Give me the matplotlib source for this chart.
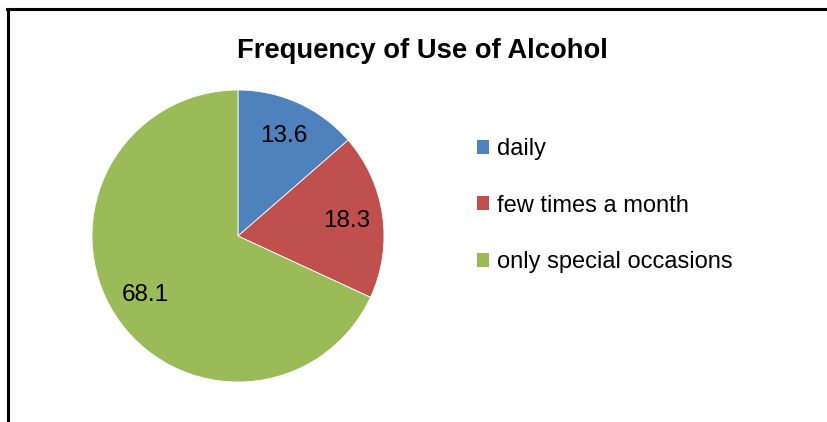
import matplotlib
matplotlib.use('Agg')
import matplotlib.pyplot as plt
from matplotlib.lines import Line2D
from matplotlib.patches import Patch

plt.rcParams['font.family'] = ['Liberation Sans', 'DejaVu Sans']

# Data
categories = ['daily', 'few times a month', 'only special occasions']
values = [13.6, 18.3, 68.1]
colors = ['#4F81BD', '#C0504D', '#9BBB59']
title = 'Frequency of Use of Alcohol'

W, H = 827, 422
fig = plt.figure(figsize=(W / 100, H / 100), dpi=100)

# pie centre (238, 236) px, radius 146 px
cx, cy, r = 238, 236, 146
ax = fig.add_axes([(cx - r) / W, (H - cy - r) / H, 2 * r / W, 2 * r / H])
wedges, texts = ax.pie(values, colors=colors, startangle=90, counterclock=False,
                       labels=[f'{v:.1f}' for v in values], labeldistance=0.75,
                       wedgeprops=dict(linewidth=0.6, edgecolor='white'),
                       textprops=dict(fontsize=17.5, ha='center', va='center'))
ax.set_xlim(-1, 1)
ax.set_ylim(-1, 1)
ax.set_aspect('equal')

fig.text(422 / W, 1 - 51 / H, title, ha='center', va='center',
         fontsize=19.7, fontweight='bold')

# legend
handles = [Patch(facecolor=c, edgecolor='none') for c in colors]
fig.legend(handles, categories, loc='upper left', bbox_to_anchor=(477 / W, 1 - 138 / H),
           frameon=False, fontsize=17, handlelength=0.52, handleheight=0.52,
           handletextpad=0.34, labelspacing=1.47, borderaxespad=0, borderpad=0)

# chart border (left and top visible)
fig.add_artist(Line2D([8 / W, 8 / W], [0, 1 - 8.5 / H], color='black', lw=2.2,
                      transform=fig.transFigure))
fig.add_artist(Line2D([7 / W, 1], [1 - 8.5 / H, 1 - 8.5 / H], color='black', lw=2.2,
                      transform=fig.transFigure))

fig.savefig('out.png', dpi=100)
